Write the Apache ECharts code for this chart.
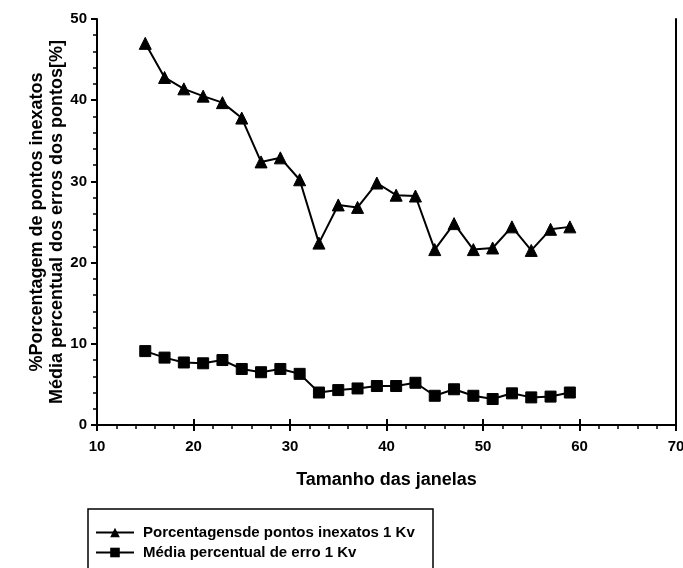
<!DOCTYPE html>
<html>
<head>
<meta charset="utf-8">
<script src="https://cdn.jsdelivr.net/npm/echarts@6/dist/echarts.min.js"></script>
<style>
html,body{margin:0;padding:0;background:#fff;overflow:hidden;}
#chart{width:683px;height:568px;}
</style>
</head>
<body>
<div id="chart"></div>
<script>
var windowSizes = [15,17,19,21,23,25,27,29,31,33,35,37,39,41,43,45,47,49,51,53,55,57,59];
var pctInexact = [47.0,42.8,41.4,40.5,39.7,37.8,32.4,32.9,30.2,22.4,27.1,26.8,29.8,28.3,28.2,21.6,24.8,21.6,21.8,24.4,21.5,24.1,24.4];
var meanError = [9.1,8.3,7.7,7.6,8.0,6.9,6.5,6.9,6.3,4.0,4.3,4.5,4.8,4.8,5.2,3.6,4.4,3.6,3.2,3.9,3.4,3.5,4.0];
var seriesNames = ['Porcentagensde pontos inexatos 1 Kv','Média percentual de erro 1 Kv'];
var xTitle = 'Tamanho das janelas';
var yTitle = '%Porcentagem de pontos inexatos\nMédia percentual dos erros dos pontos[%]';

function pairs(xs, ys){ return xs.map(function(x,i){ return [x, ys[i]]; }); }

var FONT = '"Liberation Sans", Arial, sans-serif';
var chart = echarts.init(document.getElementById('chart'), null, {renderer:'canvas'});
var axisLine = {show:true, lineStyle:{color:'#000', width:2}};
chart.setOption({
  backgroundColor:'#fff',
  animation:false,
  grid:{left:97, right:7, top:19, bottom:143, containLabel:false, outerBoundsMode:'none'},
  graphic:[{
    type:'rect', silent:true, z:-1,
    shape:{x:88, y:509, width:345, height:80},
    style:{fill:'none', stroke:'#000', lineWidth:1.5}
  }],
  legend:{
    orient:'vertical', left:88, top:510,
    padding:[15,40,4,7],
    itemWidth:38, itemHeight:12, itemGap:5,
    textStyle:{fontFamily:FONT, fontWeight:'bold', fontSize:15, color:'#000', padding:[0,0,0,4]},
    data:seriesNames
  },
  xAxis:[{
    type:'value', min:10, max:70, interval:10, position:'bottom',
    name:xTitle, nameLocation:'middle', nameGap:46,
    nameTextStyle:{fontFamily:FONT, fontWeight:'bold', fontSize:18, color:'#000'},
    axisLine:axisLine,
    axisTick:{show:true, length:6, lineStyle:{color:'#000', width:2}},
    minorTick:{show:true, splitNumber:5, length:4, lineStyle:{color:'#000', width:1.5}},
    axisLabel:{fontFamily:FONT, fontWeight:'bold', fontSize:15, color:'#000', margin:14},
    splitLine:{show:false}
  },{
    type:'value', min:10, max:70, interval:10, position:'top',
    axisLine:axisLine,
    axisTick:{show:true, length:6, lineStyle:{color:'#000', width:2}},
    axisLabel:{show:false}, splitLine:{show:false}
  }],
  yAxis:[{
    type:'value', min:0, max:50, interval:10, position:'left',
    name:yTitle, nameLocation:'middle', nameGap:30, nameRotate:90, nameMoveOverlap:false,
    nameTextStyle:{fontFamily:FONT, fontWeight:'bold', fontSize:18, color:'#000', lineHeight:20},
    axisLine:axisLine,
    axisTick:{show:true, length:6, lineStyle:{color:'#000', width:2}},
    minorTick:{show:true, splitNumber:5, length:4, lineStyle:{color:'#000', width:1.5}},
    axisLabel:{fontFamily:FONT, fontWeight:'bold', fontSize:15, color:'#000', margin:10},
    splitLine:{show:false}
  },{
    type:'value', min:0, max:50, interval:10, position:'right',
    axisLine:axisLine, axisTick:{show:false}, axisLabel:{show:false}, splitLine:{show:false}
  }],
  series:[{
    name:seriesNames[0], type:'line', xAxisIndex:0, yAxisIndex:0,
    data:pairs(windowSizes, pctInexact),
    symbol:'triangle', symbolSize:12,
    lineStyle:{color:'#000', width:2}, itemStyle:{color:'#000', borderColor:'#000'}
  },{
    name:seriesNames[1], type:'line', xAxisIndex:0, yAxisIndex:0,
    data:pairs(windowSizes, meanError),
    symbol:'rect', symbolSize:11,
    lineStyle:{color:'#000', width:2}, itemStyle:{color:'#000', borderColor:'#000'}
  }]
});
</script>
</body>
</html>
